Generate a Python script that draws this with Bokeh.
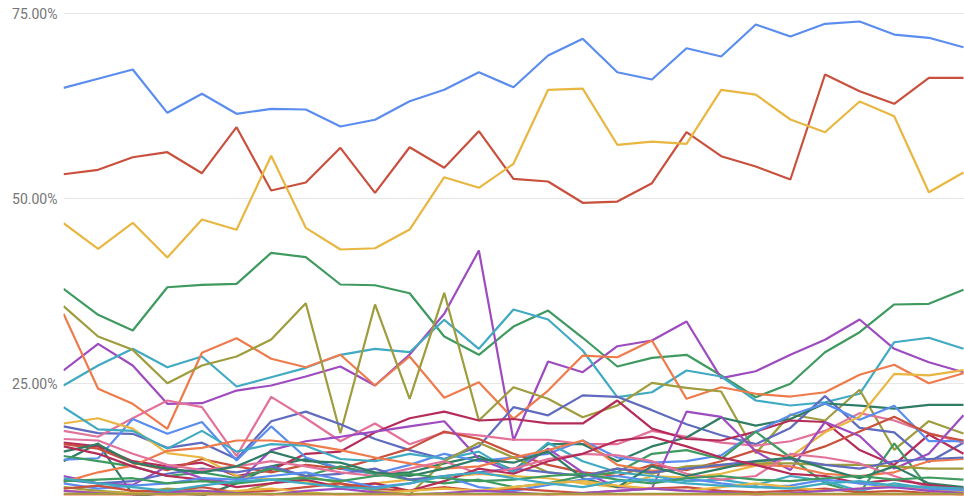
from bokeh.plotting import figure
from bokeh.models import Range1d, FixedTicker, CustomJSTickFormatter
from bokeh.embed import file_html
from bokeh.resources import INLINE

periods = list(range(27))
y_ticks = [0, 25, 50, 75, 100]

# cycle 1
s01_blue = [64.96, 66.18, 67.43, 61.58, 64.15, 61.45, 62.12, 62.03, 59.73, 60.64, 63.15, 64.69, 67.07, 65.04, 69.32, 71.58, 67.07, 66.08, 70.31, 69.19, 73.51, 71.89, 73.61, 73.92, 72.16, 71.72, 70.45]
s02_red = [53.28, 53.88, 55.58, 56.26, 53.42, 59.64, 51.08, 52.16, 56.85, 50.77, 56.93, 54.15, 59.10, 52.66, 52.30, 49.42, 49.59, 52.07, 58.96, 55.72, 54.32, 52.57, 66.76, 64.50, 62.80, 66.31, 66.30]
s03_yellow = [46.66, 43.20, 46.72, 42.03, 47.16, 45.77, 55.77, 46.04, 43.11, 43.28, 45.81, 52.88, 51.45, 54.69, 64.69, 64.86, 57.26, 57.70, 57.39, 64.69, 64.05, 60.68, 58.96, 63.11, 61.12, 50.85, 53.51]
s04_green = [37.80, 34.28, 32.16, 38.01, 38.34, 38.47, 42.66, 42.07, 38.38, 38.28, 37.20, 31.35, 28.88, 32.70, 34.86, 31.18, 27.30, 28.47, 28.88, 26.08, 23.15, 24.96, 29.23, 31.93, 35.68, 35.77, 37.66]
s05_purple = [26.76, 30.36, 27.43, 22.26, 22.34, 24.05, 24.73, 25.95, 27.30, 24.73, 28.92, 34.42, 42.97, 17.30, 27.97, 26.53, 30.04, 30.81, 33.38, 25.72, 26.66, 28.88, 30.91, 33.65, 29.69, 27.88, 26.53]
s06_teal = [24.73, 27.43, 29.69, 27.20, 28.65, 24.59, 25.85, 27.12, 28.88, 29.69, 29.23, 33.61, 29.69, 35.00, 33.65, 29.46, 23.15, 23.82, 26.76, 25.95, 22.70, 22.03, 22.47, 23.61, 30.58, 31.18, 29.69]
s07_orange = [34.42, 24.28, 22.26, 18.88, 29.15, 31.12, 28.34, 27.20, 28.88, 24.73, 28.65, 23.07, 25.18, 20.23, 24.05, 28.78, 28.55, 30.81, 22.93, 24.50, 23.61, 23.24, 23.82, 26.18, 27.53, 25.04, 26.39]
s08_olive = [35.45, 31.35, 29.55, 25.04, 27.43, 28.65, 30.95, 35.85, 18.28, 35.68, 22.93, 37.26, 20.00, 24.50, 22.93, 20.45, 22.03, 25.09, 24.42, 23.92, 15.58, 20.81, 20.00, 24.15, 16.04, 19.91, 18.24]
s09_indigo = [19.2, 18.3, 18.2, 16.3, 17.0, 14.8, 19.9, 21.2, 19.5, 17.5, 16.0, 14.8, 16.5, 21.8, 20.7, 23.4, 23.2, 21.4, 19.5, 18.0, 16.8, 19.0, 23.3, 19.0, 18.4, 14.4, 17.0]
s10_pink = [18.6, 17.8, 20.3, 22.7, 21.8, 15.2, 23.2, 20.3, 17.2, 19.6, 16.8, 18.4, 18.0, 17.4, 17.4, 16.8, 16.8, 18.6, 17.8, 17.0, 16.6, 17.2, 18.6, 21.0, 20.0, 18.3, 17.0]
s11_darkteal = [14.5, 16.9, 10.0, 9.5, 9.8, 11.5, 13.8, 14.8, 13.5, 12.8, 13.0, 14.2, 15.2, 13.3, 16.8, 16.8, 14.5, 16.5, 17.7, 20.4, 19.3, 20.2, 22.3, 22.0, 21.6, 22.1, 22.1]
s12_crimson = [17.0, 16.5, 14.5, 13.8, 14.3, 12.5, 13.3, 15.5, 15.8, 18.4, 20.3, 21.2, 20.0, 20.2, 19.6, 19.6, 22.7, 18.9, 17.5, 17.3, 18.5, 20.0, 19.8, 16.0, 14.0, 18.1, 15.5]
# cycle 2
s13_blue = [14.7, 14.9, 20.2, 18.2, 19.8, 14.6, 19.2, 15.0, 13.5, 12.8, 14.0, 15.5, 14.5, 15.0, 15.5, 17.3, 15.0, 14.3, 14.5, 15.3, 18.5, 20.7, 22.3, 20.1, 22.0, 17.2, 17.2]
s14_red = [16.8, 16.2, 14.3, 13.3, 14.8, 13.8, 13.0, 14.0, 13.5, 14.8, 16.2, 18.5, 17.5, 15.5, 14.0, 13.0, 12.5, 14.0, 13.3, 14.5, 16.0, 15.0, 16.5, 18.5, 20.5, 18.2, 17.3]
s15_yellow = [19.6, 20.3, 18.9, 15.6, 15.0, 12.5, 12.0, 11.8, 11.0, 11.5, 12.0, 12.3, 12.8, 12.5, 12.2, 11.5, 11.0, 12.5, 12.3, 12.8, 13.9, 15.1, 18.4, 20.5, 26.3, 26.1, 26.8]
s16_green = [15.2, 14.5, 13.8, 12.5, 13.0, 12.2, 13.5, 12.5, 13.8, 12.8, 12.0, 11.5, 12.0, 11.0, 11.5, 12.5, 13.0, 15.5, 16.0, 14.8, 18.5, 15.0, 11.5, 10.2, 16.9, 10.8, 10.5]
s17_purple = [12.5, 11.5, 11.3, 13.8, 12.2, 11.5, 16.0, 17.2, 17.8, 18.5, 19.2, 19.9, 14.8, 13.0, 16.2, 13.0, 11.0, 10.8, 21.2, 20.5, 15.8, 13.3, 19.8, 17.9, 13.5, 15.5, 20.7]
s18_teal = [21.8, 18.8, 18.6, 16.2, 18.6, 15.8, 16.8, 16.6, 14.8, 14.5, 15.5, 14.8, 15.8, 13.0, 17.0, 14.5, 13.0, 12.5, 11.8, 12.0, 11.3, 12.5, 11.8, 10.5, 11.5, 10.8, 10.5]
s19_orange = [11.7, 13.0, 13.9, 15.9, 16.3, 17.3, 17.3, 16.8, 16.0, 15.0, 14.2, 13.5, 13.8, 15.0, 16.0, 17.3, 14.0, 13.2, 13.5, 13.8, 14.0, 13.8, 12.8, 12.5, 13.0, 14.5, 14.8]
s20_olive = [11.0, 10.5, 10.2, 10.8, 10.5, 10.2, 11.5, 12.5, 11.5, 10.5, 10.0, 14.5, 17.0, 15.0, 13.0, 12.5, 13.5, 12.8, 13.8, 14.0, 14.2, 14.2, 14.0, 14.0, 13.8, 13.5, 13.5]
s21_indigo = [12.0, 11.5, 11.8, 12.8, 13.5, 13.0, 13.8, 12.5, 12.8, 13.5, 12.0, 12.5, 13.0, 13.5, 13.0, 12.5, 13.5, 13.0, 13.5, 14.0, 14.5, 14.8, 14.0, 13.5, 14.5, 14.8, 15.0]
s22_pink = [17.5, 17.3, 15.5, 14.0, 13.3, 13.8, 14.5, 13.8, 13.0, 12.5, 13.5, 14.5, 12.8, 13.5, 14.8, 15.5, 15.3, 14.5, 12.8, 12.0, 12.5, 15.5, 15.0, 14.2, 12.5, 11.0, 10.8]
s23_darkteal = [15.8, 16.8, 14.3, 13.5, 13.0, 13.8, 15.8, 14.5, 14.3, 13.0, 12.5, 13.5, 14.8, 14.3, 15.8, 12.2, 11.0, 13.8, 12.5, 13.5, 14.5, 15.0, 13.5, 12.2, 13.8, 11.5, 11.0]
s24_crimson = [16.5, 15.5, 13.8, 12.5, 12.0, 11.0, 11.5, 12.0, 11.0, 11.5, 10.5, 11.8, 13.5, 12.8, 14.5, 15.5, 17.3, 17.8, 16.5, 15.0, 14.0, 12.8, 12.5, 11.5, 12.0, 11.3, 10.8]
# cycle 3
s25_blue = [11.5, 10.8, 11.2, 11.5, 12.2, 12.0, 12.5, 13.0, 12.0, 11.0, 11.5, 12.5, 11.0, 10.5, 11.3, 12.0, 12.5, 11.8, 12.2, 11.5, 11.0, 11.2, 12.0, 11.5, 11.0, 10.8, 10.5]
s26_red = [10.8, 11.2, 10.5, 10.5, 11.0, 10.3, 10.5, 11.0, 11.5, 10.8, 10.5, 11.0, 10.5, 10.8, 10.5, 10.2, 10.5, 10.8, 11.0, 10.5, 10.3, 10.5, 10.8, 10.3, 10.5, 10.2, 10.0]
s27_yellow = [10.5, 10.3, 10.2, 10.0, 10.2, 10.5, 10.8, 10.3, 10.0, 10.2, 10.5, 10.8, 10.5, 11.0, 11.5, 11.8, 11.2, 10.8, 10.5, 11.0, 11.5, 11.0, 10.5, 10.8, 11.2, 10.5, 10.3]
s28_green = [11.8, 12.0, 12.2, 11.5, 11.8, 11.5, 12.0, 12.2, 11.8, 12.5, 12.8, 12.2, 11.8, 12.0, 12.5, 12.8, 12.0, 11.5, 12.2, 12.5, 12.0, 11.8, 12.2, 12.5, 12.0, 12.3, 12.0]
s29_purple = [10.5, 10.2, 10.0, 10.3, 10.5, 10.2, 10.0, 10.5, 10.8, 10.3, 10.0, 10.2, 10.5, 10.3, 10.0, 10.2, 10.5, 10.8, 10.5, 10.3, 10.0, 10.2, 10.5, 10.8, 11.0, 10.5, 10.2]
s30_teal = [12.2, 11.5, 11.0, 10.5, 11.2, 11.8, 12.0, 11.5, 11.0, 10.8, 11.5, 12.5, 13.0, 12.2, 11.5, 11.0, 11.8, 12.0, 11.5, 11.2, 11.0, 10.8, 11.5, 11.8, 11.2, 11.0, 10.8]
s31_orange = [10.0, 10.0, 10.0, 10.0, 10.0, 10.0, 10.0, 10.0, 10.0, 10.0, 10.0, 10.0, 10.0, 10.0, 10.0, 10.0, 10.0, 10.0, 10.0, 10.0, 10.0, 10.0, 10.0, 10.0, 10.0, 10.0, 10.0]
s32_olive = [10.1, 10.1, 10.1, 10.1, 10.1, 10.1, 10.1, 10.1, 10.1, 10.1, 10.1, 10.1, 10.1, 10.1, 10.1, 10.1, 10.1, 10.1, 10.1, 10.1, 10.1, 10.1, 10.1, 10.1, 10.1, 10.1, 10.1]

series = [s01_blue, s02_red, s03_yellow, s04_green, s05_purple, s06_teal, s07_orange, s08_olive,
          s09_indigo, s10_pink, s11_darkteal, s12_crimson,
          s13_blue, s14_red, s15_yellow, s16_green, s17_purple, s18_teal, s19_orange, s20_olive,
          s21_indigo, s22_pink, s23_darkteal, s24_crimson,
          s25_blue, s26_red, s27_yellow, s28_green, s29_purple, s30_teal, s31_orange, s32_olive]

palette = ["#5b8def", "#c9503d", "#e9b741", "#3e9a5f", "#9d4bbf", "#40aac2",
           "#ef7b4c", "#9e9c3d", "#5f6bbf", "#e3729b", "#2e7d64", "#b52c58"]

p = figure(width=964, height=496, output_backend="svg", toolbar_location=None,
           x_range=Range1d(0, 26.03), y_range=Range1d(9.73, 76.76),
           x_axis_location=None,
           min_border_left=63, min_border_right=0, min_border_top=0, min_border_bottom=0)
p.outline_line_color = None
p.background_fill_color = "white"
p.border_fill_color = "white"
p.xgrid.grid_line_color = None
p.yaxis.ticker = FixedTicker(ticks=y_ticks)
p.yaxis.formatter = CustomJSTickFormatter(code="return tick.toFixed(2) + '%';")
p.yaxis.axis_line_color = None
p.yaxis.major_tick_line_color = None
p.yaxis.minor_tick_line_color = None
p.yaxis.major_tick_in = 0
p.yaxis.major_tick_out = 0
p.yaxis.major_label_text_font = "Roboto"
p.yaxis.major_label_text_font_size = "14px"
p.yaxis.major_label_text_color = "#757575"
p.yaxis.major_label_standoff = 6
p.ygrid.grid_line_color = "#e6e6e6"
p.ygrid.grid_line_width = 1

for i, s in enumerate(series):
    p.line(periods, s, line_color=palette[i % len(palette)], line_width=2.2)

open("out.html", "w").write(file_html(p, INLINE))
